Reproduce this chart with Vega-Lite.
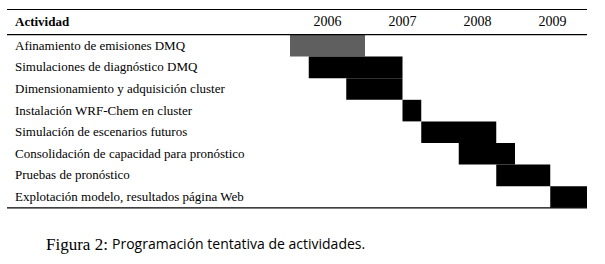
{
  "$schema": "https://vega.github.io/schema/vega-lite/v6.json",
  "width": 605,
  "height": 264,
  "autosize": "none",
  "padding": 0,
  "background": "white",
  "config": {"view": {"stroke": null}},
  "datasets": {
    "acts": [
      {"row": 1, "actividad": "Afinamiento de emisiones DMQ", "inicio": 2006, "fin": 2007, "tipo": "gris"},
      {"row": 2, "actividad": "Simulaciones de diagnóstico DMQ", "inicio": 2006.25, "fin": 2007.5, "tipo": "negro"},
      {"row": 3, "actividad": "Dimensionamiento y adquisición cluster", "inicio": 2006.75, "fin": 2007.5, "tipo": "negro"},
      {"row": 4, "actividad": "Instalación WRF-Chem en cluster", "inicio": 2007.5, "fin": 2007.75, "tipo": "negro"},
      {"row": 5, "actividad": "Simulación de escenarios futuros", "inicio": 2007.75, "fin": 2008.75, "tipo": "negro"},
      {"row": 6, "actividad": "Consolidación de capacidad para pronóstico", "inicio": 2008.25, "fin": 2009, "tipo": "negro"},
      {"row": 7, "actividad": "Pruebas de pronóstico", "inicio": 2008.75, "fin": 2009.47, "tipo": "negro"},
      {"row": 8, "actividad": "Explotación modelo, resultados página Web", "inicio": 2009.47, "fin": 2009.96, "tipo": "negro"}
    ],
    "years": [
      {"year": 2006, "label": "2006"},
      {"year": 2007, "label": "2007"},
      {"year": 2008, "label": "2008"},
      {"year": 2009, "label": "2009"}
    ],
    "lines": [
      {"pos": -1.18},
      {"pos": -0.02},
      {"pos": 8}
    ]
  },
  "encoding": {
    "y": {"type": "quantitative", "scale": {"domain": [-1.6204, 10.6019], "reverse": true, "nice": false, "zero": false}, "axis": null}
  },
  "layer": [
    {
      "data": {"name": "acts"},
      "transform": [{"calculate": "datum.row - 1", "as": "top"}],
      "mark": {"type": "rect"},
      "encoding": {
        "x": {"field": "inicio", "type": "quantitative", "scale": {"domain": [2002.1333, 2010.2], "nice": false, "zero": false}, "axis": null},
        "x2": {"field": "fin"},
        "y": {"field": "top", "type": "quantitative"},
        "y2": {"field": "row"},
        "color": {"field": "tipo", "type": "nominal", "scale": {"domain": ["gris", "negro"], "range": ["#5f5f5f", "#000000"]}, "legend": null}
      }
    },
    {
      "data": {"name": "lines"},
      "mark": {"type": "rule", "color": "#000000", "strokeWidth": 1.2},
      "encoding": {
        "x": {"datum": 2002.2267, "type": "quantitative"},
        "x2": {"datum": 2009.96},
        "y": {"field": "pos", "type": "quantitative"}
      }
    },
    {
      "data": {"name": "acts"},
      "transform": [{"calculate": "datum.row - 0.5", "as": "mid"}],
      "mark": {"type": "text", "align": "left", "baseline": "middle", "font": "Liberation Serif", "fontSize": 13, "color": "#000000"},
      "encoding": {
        "x": {"datum": 2002.3333, "type": "quantitative"},
        "y": {"field": "mid", "type": "quantitative"},
        "text": {"field": "actividad"}
      }
    },
    {
      "data": {"values": [{"h": "Actividad"}]},
      "mark": {"type": "text", "align": "left", "baseline": "middle", "font": "Liberation Serif", "fontSize": 13, "fontWeight": "bold", "color": "#000000"},
      "encoding": {
        "x": {"datum": 2002.3333, "type": "quantitative"},
        "y": {"datum": -0.6, "type": "quantitative"},
        "text": {"field": "h"}
      }
    },
    {
      "data": {"name": "years"},
      "transform": [{"calculate": "datum.year + 0.5", "as": "xc"}],
      "mark": {"type": "text", "align": "center", "baseline": "middle", "font": "Liberation Serif", "fontSize": 14, "color": "#000000"},
      "encoding": {
        "x": {"field": "xc", "type": "quantitative"},
        "y": {"datum": -0.6, "type": "quantitative"},
        "text": {"field": "label"}
      }
    },
    {
      "data": {"values": [{"cap": "Figura 2:"}]},
      "mark": {"type": "text", "align": "left", "baseline": "middle", "font": "Liberation Serif", "fontSize": 17, "color": "#000000"},
      "encoding": {
        "x": {"datum": 2002.7467, "type": "quantitative"},
        "y": {"datum": 9.72, "type": "quantitative"},
        "text": {"field": "cap"}
      }
    },
    {
      "data": {"values": [{"t": "Programación tentativa de actividades."}]},
      "mark": {"type": "text", "align": "left", "baseline": "middle", "font": "Open Sans", "fontSize": 14, "color": "#000000"},
      "encoding": {
        "x": {"datum": 2003.6267, "type": "quantitative"},
        "y": {"datum": 9.72, "type": "quantitative"},
        "text": {"field": "t"}
      }
    }
  ]
}
